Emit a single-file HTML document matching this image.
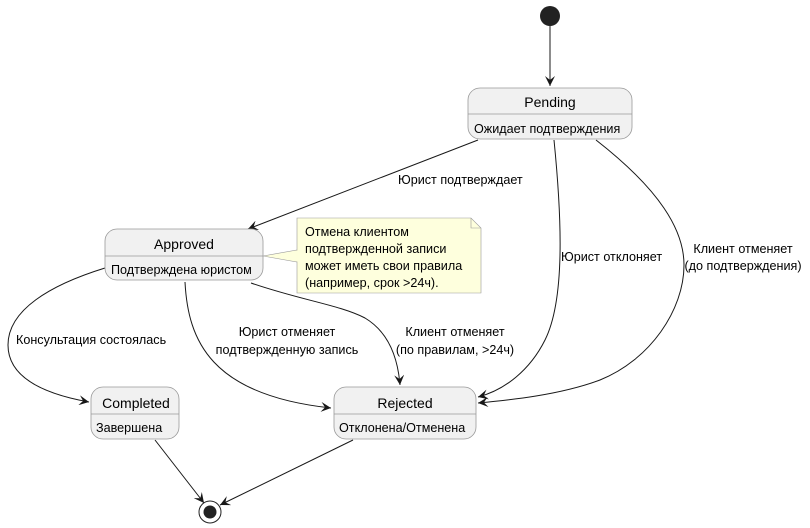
<!DOCTYPE html>
<html><head><meta charset="utf-8"><style>
html,body{margin:0;padding:0;background:#fff;}
svg{display:block;font-family:"Liberation Sans","Noto Sans CJK SC",sans-serif;}
</style></head><body>
<svg width="810" height="528" viewBox="0 0 810 528" xmlns="http://www.w3.org/2000/svg">
<defs>
<marker id="a" markerWidth="12" markerHeight="10" refX="10" refY="5" orient="auto" markerUnits="userSpaceOnUse">
<path d="M0,0 L10,5 L0,10 L4,5 Z" fill="#181818"/>
</marker>
</defs>
<g fill="none" stroke="#181818" stroke-width="1">
<path d="M550,26 L550,86" marker-end="url(#a)"/>
<path d="M478,140 L248,229" marker-end="url(#a)"/>
<path d="M554,140 C562,220 565,300 545,340 C530,370 505,390 478,397" marker-end="url(#a)"/>
<path d="M596,140 C660,190 684,230 684,265 C684,310 650,360 600,380 C560,395 510,400 478,403" marker-end="url(#a)"/>
<path d="M105,268 C50,285 8,310 8,345 C8,380 50,395 89,402" marker-end="url(#a)"/>
<path d="M185,282 C188,340 210,395 331,408" marker-end="url(#a)"/>
<path d="M251,283 C300,300 340,305 365,318 C390,333 398,360 400,385" marker-end="url(#a)"/>
<path d="M155,440 L204,503" marker-end="url(#a)"/>
<path d="M353,440 L220,505" marker-end="url(#a)"/>
</g>
<circle cx="550" cy="16" r="10" fill="#222"/>
<circle cx="210" cy="512" r="11" fill="#fff" stroke="#222" stroke-width="1"/>
<circle cx="210" cy="512" r="6.5" fill="#222"/>
<g stroke="#999" stroke-width="0.8" fill="#f1f1f1">
<rect x="468" y="88" width="164" height="51" rx="12"/>
<rect x="105" y="229" width="158" height="51" rx="12"/>
<rect x="91" y="387" width="88" height="52" rx="12"/>
<rect x="334" y="387" width="142" height="52" rx="12"/>
</g>
<g stroke="#999" stroke-width="0.8">
<line x1="468" y1="114" x2="632" y2="114"/>
<line x1="105" y1="256" x2="263" y2="256"/>
<line x1="91" y1="414" x2="179" y2="414"/>
<line x1="334" y1="414" x2="476" y2="414"/>
</g>
<path d="M263,256 L297,250 L297,262 Z" fill="#feffdd" stroke="#999" stroke-width="0.6"/>
<path d="M297,218 L471,218 L481,228 L481,293 L297,293 Z" fill="#feffdd" stroke="#999" stroke-width="0.6"/>
<path d="M471,218 L471,228 L481,228" fill="none" stroke="#999" stroke-width="0.6"/>
<line x1="297" y1="250.5" x2="297" y2="261.5" stroke="#feffdd" stroke-width="1.2"/>
<g fill="#000" font-size="14" text-anchor="middle">
<text x="550" y="107">Pending</text>
<text x="184" y="249">Approved</text>
<text x="136" y="408">Completed</text>
<text x="405" y="408">Rejected</text>
</g>
<g fill="#000" font-size="12.6">
<text x="474" y="133">Ожидает подтверждения</text>
<text x="111" y="274">Подтверждена юристом</text>
<text x="96" y="432">Завершена</text>
<text x="339" y="432">Отклонена/Отменена</text>
<text x="305" y="236">Отмена клиентом</text>
<text x="305" y="253">подтвержденной записи</text>
<text x="305" y="270">может иметь свои правила</text>
<text x="305" y="287">(например, срок &gt;24ч).</text>
<text x="398" y="184">Юрист подтверждает</text>
<text x="561" y="261">Юрист отклоняет</text>
<text x="16" y="344">Консультация состоялась</text>
</g>
<g fill="#000" font-size="12.6" text-anchor="middle">
<text x="743" y="253">Клиент отменяет</text>
<text x="743" y="270">(до подтверждения)</text>
<text x="287" y="336">Юрист отменяет</text>
<text x="287" y="354">подтвержденную запись</text>
<text x="455" y="336">Клиент отменяет</text>
<text x="455" y="354">(по правилам, &gt;24ч)</text>
</g>
</svg>
</body></html>
